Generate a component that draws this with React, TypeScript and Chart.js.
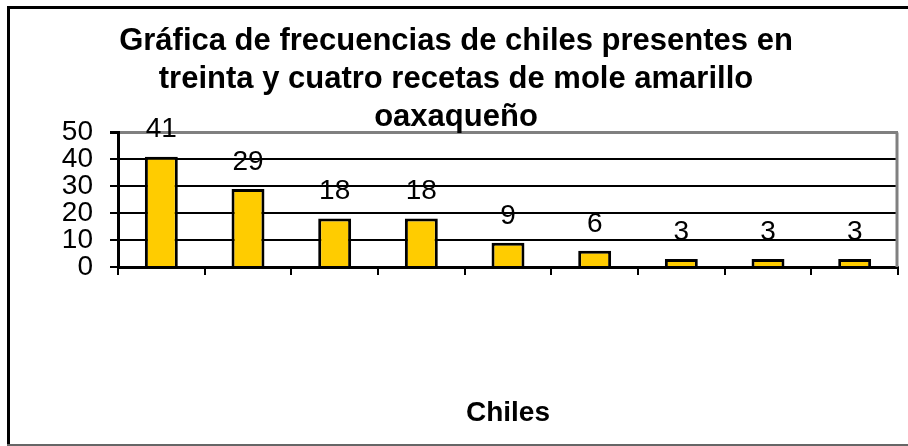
import React, { useEffect, useRef } from 'react';
import { Chart, registerables } from 'chart.js';

Chart.register(...registerables);

const categories = ['Chile 1', 'Chile 2', 'Chile 3', 'Chile 4', 'Chile 5', 'Chile 6', 'Chile 7', 'Chile 8', 'Chile 9'];
const frequencies = [41, 29, 18, 18, 9, 6, 3, 3, 3];
const yMin = 0;
const yMax = 50;
const yStep = 10;
const titleLines = [
  'Gráfica de frecuencias de chiles presentes en',
  'treinta y cuatro recetas de mole amarillo',
  'oaxaqueño',
];
const xTitle = 'Chiles';

const FONT = '"Liberation Sans", Arial, Helvetica, sans-serif';

const framePlugin = {
  id: 'frame',
  beforeDraw(chart: any) {
    const { ctx, width, height } = chart;
    ctx.save();
    ctx.fillStyle = '#ffffff';
    ctx.fillRect(0, 0, width, height);
    ctx.restore();
  },
  afterDraw(chart: any) {
    const { ctx, width, height } = chart;
    ctx.save();
    ctx.strokeStyle = '#000000';
    ctx.lineWidth = 3;
    ctx.beginPath();
    ctx.moveTo(8.5, 6);
    ctx.lineTo(8.5, height);
    ctx.moveTo(7, 7.5);
    ctx.lineTo(width, 7.5);
    ctx.stroke();
    ctx.strokeStyle = '#666666';
    ctx.lineWidth = 2;
    ctx.beginPath();
    ctx.moveTo(7, height - 1);
    ctx.lineTo(width, height - 1);
    ctx.stroke();
    ctx.restore();
  },
};

const plotBorderPlugin = {
  id: 'plotBorder',
  beforeDatasetsDraw(chart: any) {
    const { ctx, chartArea } = chart;
    ctx.save();
    ctx.strokeStyle = '#808080';
    ctx.lineWidth = 3;
    ctx.beginPath();
    ctx.moveTo(chartArea.right - 1, chartArea.top);
    ctx.lineTo(chartArea.right - 1, chartArea.bottom);
    ctx.stroke();
    ctx.restore();
  },
};

const dataLabelPlugin = {
  id: 'dataLabels',
  afterDatasetsDraw(chart: any) {
    const { ctx } = chart;
    const meta = chart.getDatasetMeta(0);
    const data = chart.data.datasets[0].data as number[];
    ctx.save();
    ctx.fillStyle = '#000000';
    ctx.font = `28px ${FONT}`;
    ctx.textAlign = 'center';
    ctx.textBaseline = 'middle';
    meta.data.forEach((bar: any, i: number) => {
      ctx.fillText(String(data[i]), bar.x, bar.y - 27);
    });
    ctx.restore();
  },
};

export default function App() {
  const canvasRef = useRef<HTMLCanvasElement | null>(null);

  useEffect(() => {
    const canvas = canvasRef.current;
    if (!canvas) return;
    Chart.defaults.font.family = FONT;
    Chart.defaults.color = '#000000';
    const chart = new Chart(canvas, {
      type: 'bar',
      data: {
        labels: categories,
        datasets: [
          {
            label: 'Frecuencia',
            data: frequencies,
            backgroundColor: '#FFCC00',
            borderColor: '#000000',
            borderWidth: 3,
            barPercentage: 0.38,
            categoryPercentage: 1,
          },
        ],
      },
      options: {
        responsive: false,
        animation: false,
        devicePixelRatio: 1,
        layout: { padding: { top: 8, left: 14, right: 10, bottom: 0 } },
        plugins: {
          legend: { display: false },
          tooltip: { enabled: false },
          title: {
            display: true,
            text: titleLines,
            color: '#000000',
            font: { size: 31, weight: 'bold', family: FONT, lineHeight: 1.22 },
            padding: { top: 15, bottom: -4 },
          },
        },
        scales: {
          x: {
            type: 'category',
            offset: true,
            grid: {
              display: true,
              offset: true,
              drawOnChartArea: false,
              drawTicks: true,
              tickLength: 8,
              color: '#000000',
              lineWidth: 2,
            },
            border: { display: true, color: '#000000', width: 3 },
            ticks: { display: false },
            title: {
              display: true,
              text: xTitle,
              color: '#000000',
              font: { size: 28, weight: 'bold', family: FONT, lineHeight: 1.2 },
              padding: { top: 0, bottom: 16 },
            },
            afterFit(scale: any) {
              scale.height = 179;
            },
          },
          y: {
            min: yMin,
            max: yMax,
            ticks: {
              stepSize: yStep,
              autoSkip: false,
              color: '#000000',
              padding: 17,
              font: { size: 28, family: FONT },
            },
            grid: {
              color: (c: any) => (c.tick && c.tick.value === yMax ? '#808080' : '#000000'),
              lineWidth: (c: any) => (c.tick && c.tick.value === yMax ? 3 : 2),
              tickColor: '#000000',
              tickLength: 8,
              drawTicks: true,
            },
            border: { display: true, color: '#000000', width: 3 },
            afterFit(scale: any) {
              scale.width = 104;
            },
          },
        },
      },
      plugins: [framePlugin, plotBorderPlugin, dataLabelPlugin],
    });
    return () => chart.destroy();
  }, []);

  return (
    <div style={{ position: 'fixed', left: 0, top: 0, width: 908, height: 446, background: '#ffffff' }}>
      <canvas ref={canvasRef} width={908} height={446} style={{ display: 'block' }} />
    </div>
  );
}
